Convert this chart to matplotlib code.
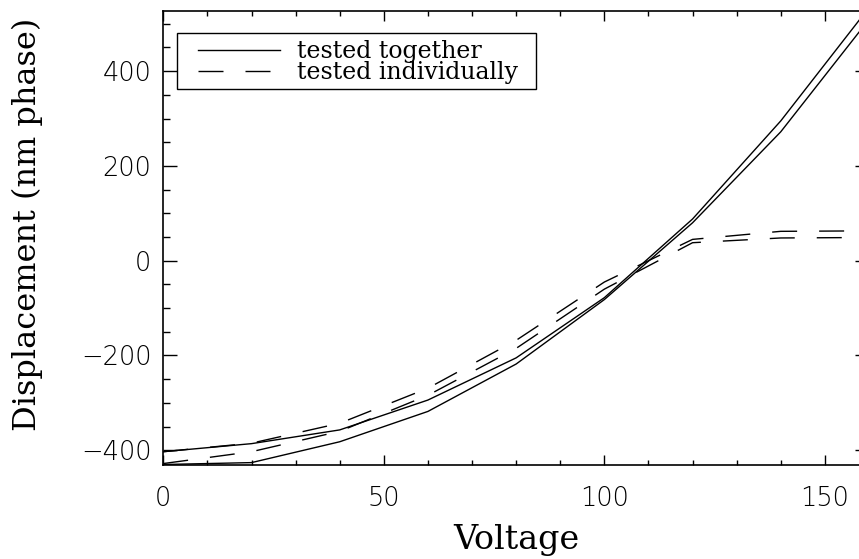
import matplotlib
matplotlib.use('Agg')
import matplotlib.pyplot as plt
from matplotlib.patches import Rectangle
from matplotlib.ticker import MultipleLocator

# data
voltage = [0, 20, 40, 60, 80, 100, 120, 140, 160]
together_a = [-403, -386, -357, -294, -205, -78, 88, 295, 534]
together_b = [-430, -426, -382, -318, -218, -82, 80, 272, 509]
indiv_a = [-403, -385, -343, -269, -168, -45, 45, 62, 63]
indiv_b = [-428, -403, -360, -284, -185, -60, 38, 48, 49]

x_ticks = [0, 50, 100, 150]
y_ticks = [-400, -200, 0, 200, 400]

PX = 0.72  # points per pixel at dpi 100

fig = plt.figure(figsize=(8.59, 5.59), dpi=100)
# right spine sits just outside the canvas, as in the reference
ax = fig.add_axes([0.1901, 0.1682, 0.8215, 0.8122])

dash = (25 * PX, 22 * PX)
ax.plot(voltage, together_a, color='black', lw=1.0, label='tested together')
ax.plot(voltage, together_b, color='black', lw=1.0)
ax.plot(voltage, indiv_a, color='black', lw=1.0, dashes=dash,
        label='tested individually')
ax.plot(voltage, indiv_b, color='black', lw=1.0, dashes=dash)

ax.set_xlim(0, 160)
ax.set_ylim(-431, 527)

ax.xaxis.set_minor_locator(MultipleLocator(10))
ax.yaxis.set_minor_locator(MultipleLocator(50))
ax.set_xticks(x_ticks)
ax.set_yticks(y_ticks)
ax.set_xticklabels([str(v) for v in x_ticks])
ax.set_yticklabels([str(v).replace('-', '\u2212') for v in y_ticks])

ax.tick_params(axis='both', which='both', direction='in',
               top=True, right=True, width=1.0, colors='black')
ax.tick_params(axis='x', which='major', length=10 * PX, pad=21 * PX)
ax.tick_params(axis='x', which='minor', length=5 * PX)
ax.tick_params(axis='y', which='major', length=14 * PX, pad=12 * PX)
ax.tick_params(axis='y', which='minor', length=7 * PX)
for lab in ax.get_xticklabels() + ax.get_yticklabels():
    lab.set_family('DejaVu Sans')
    lab.set_fontweight('light')
    lab.set_fontsize(18.5)

for sp in ax.spines.values():
    sp.set_linewidth(1.2)

ax.set_xlabel('Voltage', family='DejaVu Serif', fontsize=24)
ax.set_ylabel('Displacement (nm phase)', family='DejaVu Serif', fontsize=23)
ax.xaxis.set_label_coords(0.5, -0.13)
ax.yaxis.set_label_coords(-0.17, 0.53)

# legend entries without their own frame, the box is drawn separately
leg = ax.legend(loc='upper left', bbox_to_anchor=(0.0492, 0.936),
                borderaxespad=0, borderpad=0, frameon=False,
                handlelength=3.47, handletextpad=0.72, labelspacing=-0.09,
                prop={'family': 'DejaVu Serif', 'size': 17})
ax.add_patch(Rectangle((0.0198, 0.828), 0.508, 0.123, transform=ax.transAxes,
                       fill=False, edgecolor='black', lw=1.0, zorder=4))

fig.savefig('out.png', dpi=100)
